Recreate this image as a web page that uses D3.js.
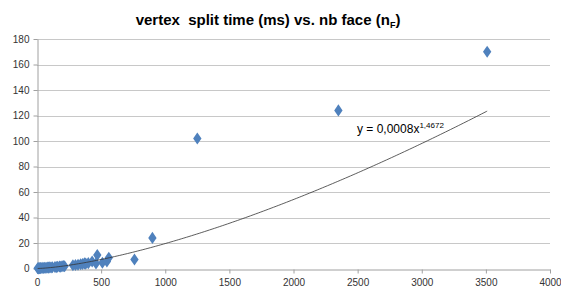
<!DOCTYPE html>
<html>
<head>
<meta charset="utf-8">
<script src="https://cdn.jsdelivr.net/npm/d3@7"></script>
<style>
  body { margin: 0; background: #fff; }
  svg { display: block; }
  text { font-family: "Liberation Sans", "DejaVu Sans", sans-serif; }
</style>
</head>
<body>
<div id="chart"></div>
<script>
var width = 561,
    height = 291;

// number of faces (nF) vs. split time (ms)
var faces = [5, 10, 15, 20, 25, 30, 40, 50, 60, 70, 80, 90, 100, 110, 120, 140, 150, 160, 175, 185,
  195, 205, 215, 280, 300, 320, 340, 355, 370, 380, 400, 430, 460, 470, 510, 545, 560, 760, 900,
  1250, 2350, 3510];
var times = [0.2, 0.1, 0.3, 0.2, 0.4, 0.3, 0.5, 0.4, 0.6, 0.5, 0.8, 0.7, 0.9, 0.8, 1.0, 1.2, 1.1, 1.4, 1.5, 1.3,
  1.8, 2.0, 1.7, 2.5, 2.8, 3.0, 3.3, 3.6, 4.0, 3.8, 4.2, 5.5, 4.0, 10.5, 4.5, 5.5, 8.5, 7, 24,
  102, 124, 170];

var xTicks = [0, 500, 1000, 1500, 2000, 2500, 3000, 3500, 4000];
var yTicks = [0, 20, 40, 60, 80, 100, 120, 140, 160, 180];

// power trendline y = a * x^b
var trendA = 0.0008, trendB = 1.4672;

var margin = {left: 37, right: 11, top: 39, bottom: 22};

var x = d3.scaleLinear().domain([0, 4000]).range([margin.left, width - margin.right]);
var y = d3.scaleLinear().domain([0, 180]).range([height - margin.bottom - 0.5, margin.top]);

var svg = d3.select("#chart").append("svg")
  .attr("width", width)
  .attr("height", height);

// title
var title = svg.append("text")
  .attr("x", 268)
  .attr("y", 25)
  .attr("text-anchor", "middle")
  .style("white-space", "pre")
  .style("font-size", "15px")
  .style("font-weight", "bold")
  .style("fill", "#000");
title.append("tspan").text("vertex  split time (ms) vs. nb face (n");
title.append("tspan").attr("dy", 3).style("font-size", "9px").text("F");
title.append("tspan").attr("dy", -3).text(")");

// gridlines
svg.selectAll(".grid").data(yTicks.filter(function(d) { return d > 0; })).enter()
  .append("line")
    .attr("class", "grid")
    .attr("x1", x(0))
    .attr("x2", x(4000))
    .attr("y1", function(d) { return Math.round(y(d)) + 0.5; })
    .attr("y2", function(d) { return Math.round(y(d)) + 0.5; })
    .style("stroke", "#c8c8c8")
    .style("stroke-width", 1);

// axes
var xAxis = svg.append("g")
  .attr("transform", "translate(0," + (Math.round(y(0)) + 0.5) + ")")
  .call(d3.axisBottom(x).tickValues(xTicks).tickFormat(d3.format("d")).tickSize(4).tickSizeOuter(0));
var yAxis = svg.append("g")
  .attr("transform", "translate(" + (Math.round(x(0)) + 0.5) + ",0)")
  .call(d3.axisLeft(y).tickValues(yTicks).tickFormat(d3.format("d")).tickSize(4).tickSizeOuter(0));

[xAxis, yAxis].forEach(function(g) {
  g.select(".domain").style("stroke", "#a0a0a0");
  g.selectAll(".tick line").style("stroke", "#a0a0a0");
  g.selectAll(".tick text")
    .style("font-size", "10px")
    .style("fill", "#333")
    .attr("font-family", null);
});
xAxis.selectAll(".tick text").attr("dy", "0.9em");
yAxis.selectAll(".tick text").attr("x", -8);

// points
var diamond = d3.symbol().type(d3.symbolDiamond).size(42);
svg.selectAll(".pt").data(faces).enter()
  .append("path")
    .attr("class", "pt")
    .attr("d", diamond)
    .attr("transform", function(d, i) { return "translate(" + x(d) + "," + y(times[i]) + ") scale(1.2,1)"; })
    .style("fill", "#4f81bd");

// trendline (drawn over the data range)
var xMin = d3.min(faces), xMax = d3.max(faces);
var trendX = d3.range(xMin, xMax, 20).concat([xMax]);
svg.append("path")
  .datum(trendX)
  .attr("d", d3.line()
    .x(function(d) { return x(d); })
    .y(function(d) { return y(trendA * Math.pow(d, trendB) * 0.97); }))
  .style("fill", "none")
  .style("stroke", "#333")
  .style("stroke-width", 0.8);

// equation label
var eq = svg.append("text")
  .attr("x", 357)
  .attr("y", 133)
  .style("font-size", "12px")
  .style("fill", "#000");
eq.append("tspan").text("y = 0,0008x");
eq.append("tspan").attr("dy", -5).style("font-size", "8px").text("1,4672");
</script>
</body>
</html>
